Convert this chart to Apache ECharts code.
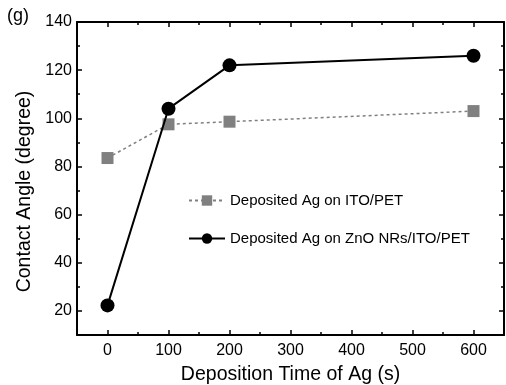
<!DOCTYPE html>
<html>
<head>
<meta charset="utf-8">
<script src="https://cdn.jsdelivr.net/npm/echarts@6/dist/echarts.min.js"></script>
<style>
html, body { margin: 0; padding: 0; background: #fff; }
#chart { width: 506px; height: 385px; }
</style>
</head>
<body>
<div id="chart"></div>
<script>
// deposition time (s)
var times = [0, 100, 200, 600];
var itoPet = [83.5, 97.5, 98.6, 103];
var znoItoPet = [22.3, 104, 122, 126];

var xMajor = [0, 100, 200, 300, 400, 500, 600];
var xMinor = [50, 150, 250, 350, 450, 550];
var yMajor = [20, 40, 60, 80, 100, 120, 140];
var yMinor = [30, 50, 70, 90, 110, 130];

var font = 'Liberation Sans, Arial, sans-serif';

function pairs(xs, ys) {
	return xs.map(function (x, i) { return [x, ys[i]]; });
}

function xAx(pos, ticks, len, showLine, labels) {
	return {
		type: 'value', position: pos, min: -50, max: 650,
		axisLine: { show: showLine, onZero: false, lineStyle: { color: '#000', width: 2 } },
		axisTick: { show: true, inside: true, length: len, customValues: ticks, lineStyle: { color: '#000', width: 1.5 } },
		axisLabel: labels ? { show: true, customValues: xMajor, color: '#000', fontSize: 16, fontFamily: font, margin: 8 } : { show: false },
		splitLine: { show: false }
	};
}
function yAx(pos, ticks, len, showLine, labels) {
	return {
		type: 'value', position: pos, min: 10, max: 140,
		axisLine: { show: showLine, onZero: false, lineStyle: { color: '#000', width: 2 } },
		axisTick: { show: true, inside: true, length: len, customValues: ticks, lineStyle: { color: '#000', width: 1.5 } },
		axisLabel: labels ? { show: true, customValues: yMajor, color: '#000', fontSize: 16, fontFamily: font, margin: 5 } : { show: false },
		splitLine: { show: false }
	};
}

var myChart = echarts.init(document.getElementById('chart'));

var xMain = xAx('bottom', xMajor, 5, true, true);
xMain.name = 'Deposition Time of Ag (s)';
xMain.nameLocation = 'middle';
xMain.nameGap = 30;
xMain.nameTextStyle = { color: '#000', fontSize: 19.5, fontFamily: font };

var yMain = yAx('left', yMajor, 5, true, true);
yMain.name = 'Contact Angle (degree)';
yMain.nameLocation = 'middle';
yMain.nameGap = 38;
// push the title a bit below the axis middle, as in the original
yMain.nameTextStyle = { color: '#000', fontSize: 19.5, fontFamily: font, padding: [0, 26, 0, 0] };

var option = {
	animation: false,
	backgroundColor: '#fff',
	title: {
		text: '(g)', left: 7, top: 7, padding: 0,
		textStyle: { color: '#000', fontSize: 18, fontWeight: 'normal', fontFamily: font }
	},
	grid: { left: 77, top: 22, right: 2, bottom: 50, outerBoundsMode: 'none' },
	legend: {
		orient: 'vertical', left: 188, top: 193, padding: 0,
		itemWidth: 36, itemHeight: 13, itemGap: 23,
		textStyle: { color: '#000', fontSize: 15, fontFamily: font },
		data: ['Deposited Ag on ITO/PET', 'Deposited Ag on ZnO NRs/ITO/PET']
	},
	xAxis: [
		xMain,
		xAx('bottom', xMinor, 3, false, false),
		xAx('top', xMajor, 5, true, false),
		xAx('top', xMinor, 3, false, false)
	],
	yAxis: [
		yMain,
		yAx('left', yMinor, 3, false, false),
		yAx('right', yMajor, 5, true, false),
		yAx('right', yMinor, 3, false, false)
	],
	series: [
		{
			name: 'Deposited Ag on ITO/PET',
			type: 'line',
			data: pairs(times, itoPet),
			symbol: 'rect', symbolSize: 12,
			itemStyle: { color: '#808080' },
			lineStyle: { color: '#808080', width: 1.5, type: [3, 3] },
			z: 2
		},
		{
			name: 'Deposited Ag on ZnO NRs/ITO/PET',
			type: 'line',
			data: pairs(times, znoItoPet),
			symbol: 'circle', symbolSize: 14,
			itemStyle: { color: '#000' },
			lineStyle: { color: '#000', width: 2 },
			z: 3
		}
	]
};
myChart.setOption(option);
</script>
</body>
</html>
